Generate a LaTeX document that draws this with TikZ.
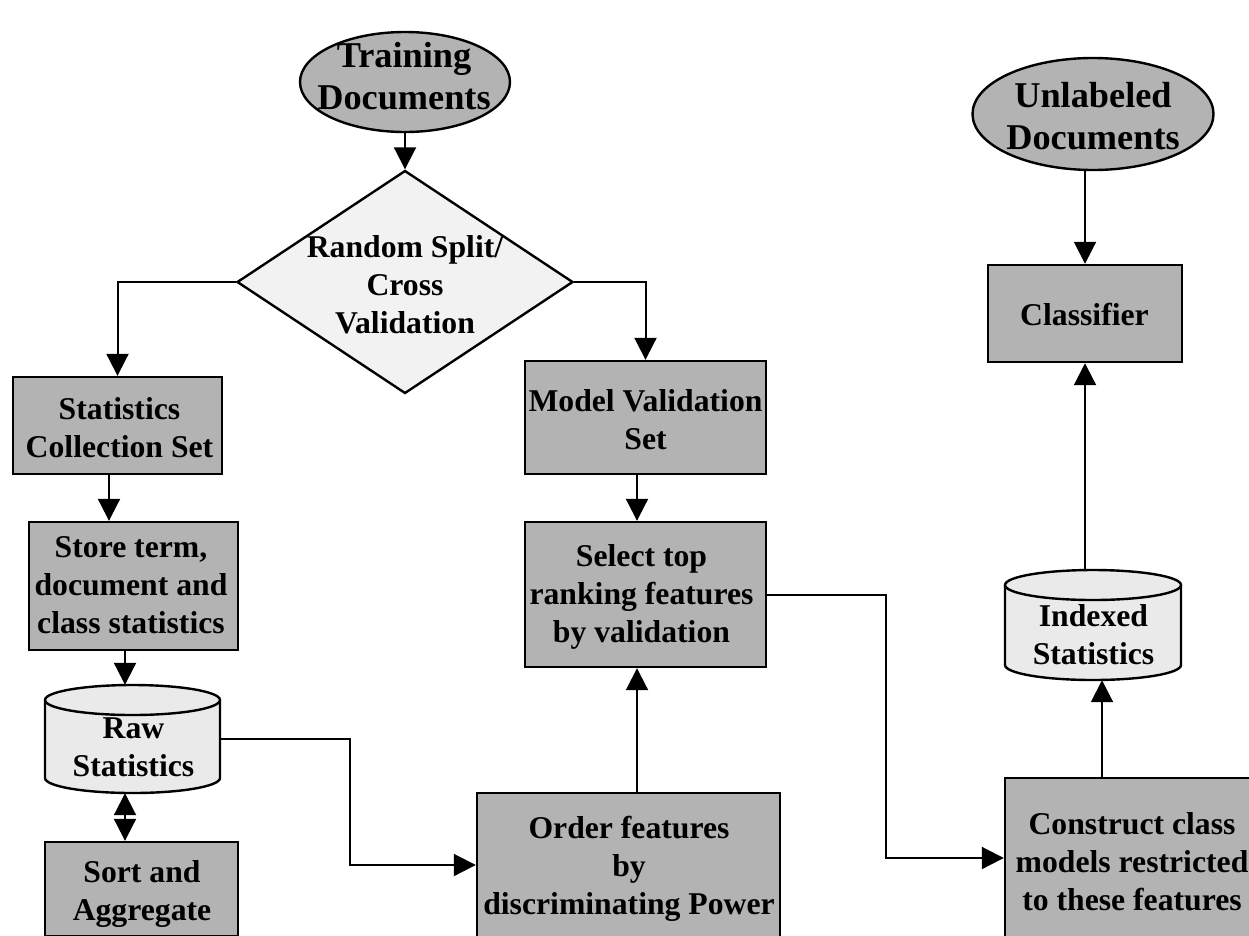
\documentclass[tikz,border=0pt]{standalone}
\usepackage{fontspec}
\setmainfont{Liberation Serif}
\usetikzlibrary{shapes.geometric,arrows.meta}
\definecolor{boxgray}{RGB}{179,179,179}
\definecolor{diafill}{RGB}{242,242,242}
\definecolor{cylfill}{RGB}{234,234,234}
\tikzset{
  shapebox/.style={draw=black,line width=2.4pt,fill=boxgray,inner sep=0pt},
  procbox/.style={shapebox,rectangle},
  docell/.style={shapebox,ellipse},
  decide/.style={draw=black,line width=2.4pt,fill=diafill,diamond,inner sep=0pt},
  cylbody/.style={draw=black,line width=2.4pt,fill=cylfill},
  anchorbox/.style={rectangle,inner sep=0pt},
  lbl/.style={align=center,inner sep=0pt,font=\bfseries\fontsize{31.7}{38}\selectfont},
  biglbl/.style={align=center,inner sep=0pt,font=\bfseries\fontsize{36.3}{42}\selectfont},
  arr/.style={line width=2pt,-{Triangle[length=22pt,width=22pt]}},
  darr/.style={line width=2pt,{Triangle[length=22pt,width=22pt]}-{Triangle[length=22pt,width=22pt]}}
}
\begin{document}
\begin{tikzpicture}[x=1pt,y=1pt]
\useasboundingbox (0,0) rectangle (1249,-935);
\clip (0,0) rectangle (1249,-935);
\fill[white] (0,0) rectangle (1249,-935);

% helper coordinates
\coordinate (c109) at (109,0);
\coordinate (c125) at (125,0);
\coordinate (c637) at (637,0);
\coordinate (c1085) at (1085,0);
\coordinate (c1102) at (1102,0);
\coordinate (k1) at (350,-865);
\coordinate (k2) at (886,-858);

% shapes
\node[docell,minimum width=210pt,minimum height=100pt] (train) at (405,-82) {};
\node[decide,minimum width=336pt,minimum height=223pt] (diam) at (405,-282) {};
\node[docell,minimum width=241pt,minimum height=112pt] (unl) at (1093,-114) {};
\node[procbox,minimum width=209pt,minimum height=97pt] (statcoll) at (117.5,-425.5) {};
\node[procbox,minimum width=209pt,minimum height=128pt] (store) at (133.5,-586) {};
\node[procbox,minimum width=193pt,minimum height=94pt] (sort) at (141.5,-889) {};
\node[procbox,minimum width=241pt,minimum height=113pt] (model) at (645.5,-417.5) {};
\node[procbox,minimum width=241pt,minimum height=145pt] (select) at (645.5,-594.5) {};
\node[procbox,minimum width=303pt,minimum height=158pt] (order) at (628.5,-872) {};
\node[procbox,minimum width=247pt,minimum height=164pt] (construct) at (1128.5,-860) {};
\node[procbox,minimum width=194pt,minimum height=97pt] (classif) at (1085,-313.5) {};

% cylinders
\draw[cylbody] (45,-700) -- (45,-778) arc[start angle=180,end angle=360,x radius=87.5,y radius=15]
  -- (220,-700) arc[start angle=0,end angle=180,x radius=87.5,y radius=15] -- cycle;
\draw[line width=2.4pt] (45,-700) arc[start angle=180,end angle=360,x radius=87.5,y radius=15];
\node[anchorbox,minimum width=175pt,minimum height=108pt] (raw) at (132.5,-739) {};

\draw[cylbody] (1005,-585) -- (1005,-665) arc[start angle=180,end angle=360,x radius=88,y radius=15]
  -- (1181,-585) arc[start angle=0,end angle=180,x radius=88,y radius=15] -- cycle;
\draw[line width=2.4pt] (1005,-585) arc[start angle=180,end angle=360,x radius=88,y radius=15];
\node[anchorbox,minimum width=176pt,minimum height=110pt] (idx) at (1093,-625) {};

% labels
\node[biglbl] (trainT) at (404,-76.5) {Training\\Documents};
\node[biglbl] (unlT) at (1093,-116) {Unlabeled\\Documents};
\node[lbl] (diamT) at (405,-285) {Random Split/\\Cross\\Validation};
\node[lbl] (statcollT) at (119.5,-427.5) {Statistics\\Collection Set};
\node[lbl] (storeT) at (131,-585) {Store term,\\document and\\class statistics};
\node[lbl] (rawT) at (133.5,-747) {Raw\\Statistics};
\node[lbl] (sortT) at (142,-893.5) {Sort and\\Aggregate};
\node[lbl] (modelT) at (645.5,-420) {Model Validation\\Set};
\node[lbl] (selectT) at (641.5,-597) {Select top\\ranking features\\by validation};
\node[lbl] (orderT) at (629,-869) {Order features\\by\\discriminating Power};
\node[lbl] (classifT) at (1084.5,-314) {Classifier};
\node[lbl] (idxT) at (1093.5,-635) {Indexed\\Statistics};
\node[lbl] (constructT) at (1132,-862) {Construct class\\models restricted\\to these features};

% connectors
\draw[arr] (train.south) -- (diam.north);
\draw[arr] (diam.west) -| (statcoll.north);
\draw[arr] (diam.east) -| (model.north);
\draw[arr] (statcoll.south -| c109) -- (store.north -| c109);
\draw[arr] (store.south -| c125) -- (raw.north -| c125);
\draw[darr] (raw.south -| c125) -- (sort.north -| c125);
\draw[arr] (raw.east) -| (k1) -- (order.west |- k1);
\draw[arr] (order.north -| c637) -- (select.south -| c637);
\draw[arr] (model.south -| c637) -- (select.north -| c637);
\draw[arr] (select.east) -| (k2) -- (construct.west |- k2);
\draw[arr] (construct.north -| c1102) -- (idx.south -| c1102);
\draw[arr] (idx.north -| c1085) -- (classif.south -| c1085);
\draw[arr] (unl.south -| c1085) -- (classif.north -| c1085);
\end{tikzpicture}
\end{document}
